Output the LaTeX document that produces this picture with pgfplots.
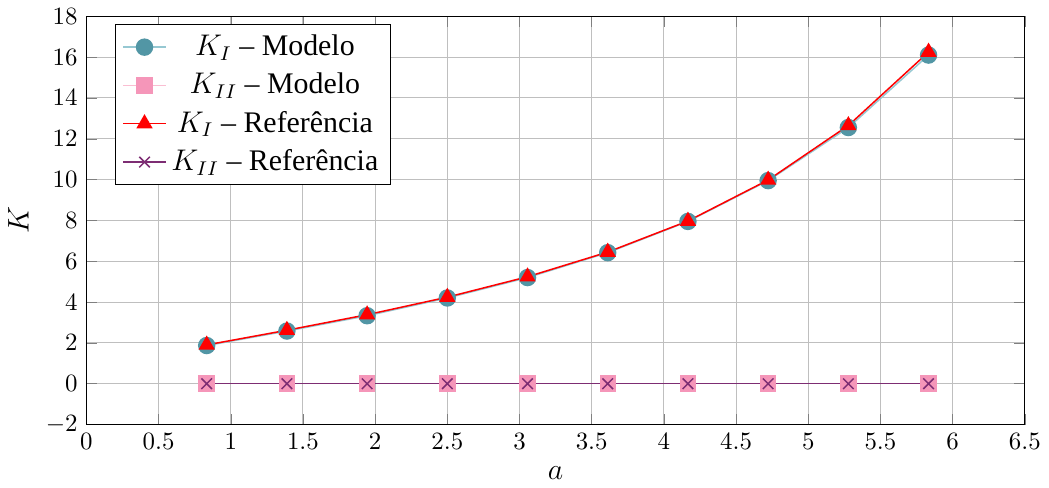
\documentclass[border=0pt]{standalone}
\usepackage{fontspec}
\setmainfont{Liberation Serif}
\usepackage{pgfplots}
\pgfplotsset{compat=1.18}
\definecolor{tealM}{RGB}{82,150,165}
\definecolor{tealL}{RGB}{150,200,210}
\definecolor{pinkM}{RGB}{245,150,185}
\definecolor{pinkL}{RGB}{250,190,210}
\definecolor{purp}{RGB}{125,45,115}
\begin{document}
\begin{tikzpicture}
\begin{axis}[
  width=422pt, height=209pt,
  xmin=0, xmax=6.5, ymin=-2, ymax=18,
  xtick={0,0.5,...,6.5}, ytick={-2,0,...,18},
  grid=major, grid style={gray!50},
  xlabel={\large $a$}, ylabel={\large $K$},
  tick align=inside,
  legend style={at={(0.03,0.98)}, anchor=north west, font=\large, row sep=1.5pt, cells={anchor=center}},
  legend cell align=center,
  every axis plot/.append style={line width=0.6pt},
]
\addplot[color=tealL, mark=*, mark size=3.2pt, mark options={draw=tealM, fill=tealM}] coordinates {
(0.8333,1.87)(1.3889,2.58)(1.9444,3.33)(2.5,4.2)(3.0556,5.2)(3.6111,6.42)(4.1667,7.95)(4.7222,9.95)(5.2778,12.55)(5.8333,16.1)};
\addlegendentry{$K_I$ -- Modelo}
\addplot[color=pinkL, mark=square*, mark size=3pt, mark options={draw=pinkM, fill=pinkM}] coordinates {
(0.8333,0)(1.3889,0)(1.9444,0)(2.5,0)(3.0556,0)(3.6111,0)(4.1667,0)(4.7222,0)(5.2778,0)(5.8333,0)};
\addlegendentry{$K_{II}$ -- Modelo}
\addplot[color=red, mark=triangle*, mark size=3.2pt, mark options={fill=red}] coordinates {
(0.8333,1.9)(1.3889,2.62)(1.9444,3.38)(2.5,4.24)(3.0556,5.24)(3.6111,6.45)(4.1667,7.97)(4.7222,9.98)(5.2778,12.65)(5.8333,16.25)};
\addlegendentry{$K_I$ -- Referência}
\addplot[color=purp, mark=x, mark size=3pt] coordinates {
(0.8333,0)(1.3889,0)(1.9444,0)(2.5,0)(3.0556,0)(3.6111,0)(4.1667,0)(4.7222,0)(5.2778,0)(5.8333,0)};
\addlegendentry{$K_{II}$ -- Referência}
\end{axis}
\end{tikzpicture}
\end{document}
